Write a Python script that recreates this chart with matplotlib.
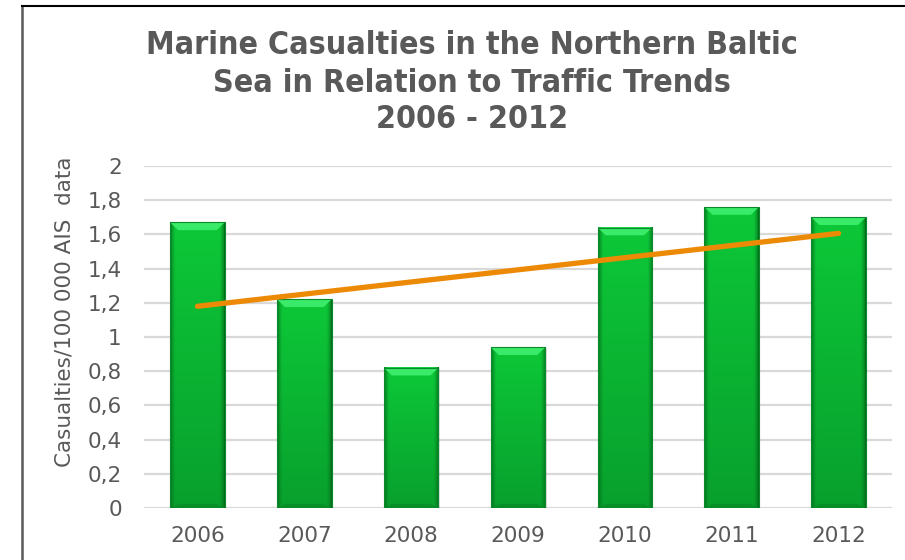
import numpy as np
import matplotlib
matplotlib.use("Agg")
import matplotlib.pyplot as plt
from matplotlib.patches import Rectangle, Polygon
from matplotlib.colors import to_rgb

# Data
years = ["2006", "2007", "2008", "2009", "2010", "2011", "2012"]
casualties = [1.67, 1.22, 0.82, 0.94, 1.64, 1.76, 1.70]
y_ticks = [0, 0.2, 0.4, 0.6, 0.8, 1.0, 1.2, 1.4, 1.6, 1.8, 2.0]
y_tick_labels = ["0", "0,2", "0,4", "0,6", "0,8", "1", "1,2", "1,4", "1,6", "1,8", "2"]

title = "Marine Casualties in the Northern Baltic\nSea in Relation to Traffic Trends\n2006 - 2012"
y_label = "Casualties/100 000 AIS  data"

TEXT = "#595959"
GRID = "#d9d9d9"
TREND = "#ED8A05"
TOP_C = np.array(to_rgb("#0dc838"))
BOT_C = np.array(to_rgb("#08a02d"))
EDGE_C = np.array(to_rgb("#046a1b"))
BEVEL_TOP = "#40f070"
BEVEL_BOT = "#068a26"

plt.rcParams["font.family"] = ["DejaVu Sans"]

fig = plt.figure(figsize=(9.05, 5.6), dpi=100)
ax = fig.add_axes([144 / 905, 1 - 508 / 560, (892 - 144) / 905, (508 - 166) / 560])

x = np.arange(len(years))
width = 0.51
ax.set_xlim(-0.5, len(years) - 0.5)
ax.set_ylim(0, 2)

# Horizontal grid
for t in y_ticks:
    ax.axhline(t, color=GRID, lw=1.6, zorder=0)

# Bars with a bevelled gradient fill
nx, ny = 60, 100
u = np.linspace(0, 1, nx)
edge_shade = np.clip(np.minimum(u, 1 - u) / 0.09, 0, 1) ** 0.6
for xi, v in zip(x, casualties):
    left = xi - width / 2
    vert = np.linspace(0, 1, ny)[:, None, None]
    body = TOP_C * (1 - vert) + BOT_C * vert
    img = EDGE_C * (1 - edge_shade[None, :, None]) + body * edge_shade[None, :, None]
    img = np.broadcast_to(img, (ny, nx, 3))
    # soft shadow
    ax.add_patch(Rectangle((left + 0.012, 0), width, v - 0.004, facecolor="#000000",
                           alpha=0.12, edgecolor="none", zorder=1))
    ax.imshow(img, extent=(left, left + width, 0, v), aspect="auto",
              interpolation="bilinear", zorder=2)
    dx = 0.075
    dy = 0.045
    ax.add_patch(Polygon([(left, v), (left + width, v), (left + width - dx, v - dy),
                          (left + dx, v - dy)], closed=True, facecolor=BEVEL_TOP,
                         edgecolor="none", alpha=0.9, zorder=3))
    ax.add_patch(Polygon([(left, 0), (left + width, 0), (left + width - dx, dy * 0.5),
                          (left + dx, dy * 0.5)], closed=True, facecolor=BEVEL_BOT,
                         edgecolor="none", alpha=0.8, zorder=3))
    ax.add_patch(Rectangle((left, 0), width, v, facecolor="none",
                           edgecolor="#0a8a2a", lw=0.8, zorder=4))

# Linear trend line over the casualty rates
coef = np.polyfit(x, casualties, 1)
trend = np.polyval(coef, x)
ax.plot([x[0], x[-1]], [trend[0], trend[-1]], color=TREND, lw=3.8,
        solid_capstyle="round", zorder=5)

ax.set_xticks(x)
ax.set_xticklabels(years, fontsize=15.5, color=TEXT)
ax.set_yticks(y_ticks)
ax.set_yticklabels(y_tick_labels, fontsize=15.5, color=TEXT)
ax.tick_params(axis="x", length=0, pad=13)
ax.tick_params(axis="y", length=0, pad=16)
for s in ax.spines.values():
    s.set_visible(False)

fig.text(65 / 905, 1 - 312 / 560, y_label, rotation=90, ha="center", va="center",
         fontsize=15.5, color=TEXT)

fig.text(472 / 905, 1 - 83 / 560, title, ha="center", va="center", fontsize=23,
         fontweight="bold", fontstretch="condensed", color=TEXT, linespacing=1.25)

# Outer frame (left and top edges)
fig.add_artist(plt.Line2D([22 / 905, 22 / 905], [0, 1 - 6 / 560], color="#595959", lw=1.8,
                          transform=fig.transFigure))
fig.add_artist(plt.Line2D([22 / 905, 1], [1 - 6 / 560, 1 - 6 / 560], color="#000000", lw=1.5,
                          transform=fig.transFigure))

fig.savefig("out.png", dpi=100)
